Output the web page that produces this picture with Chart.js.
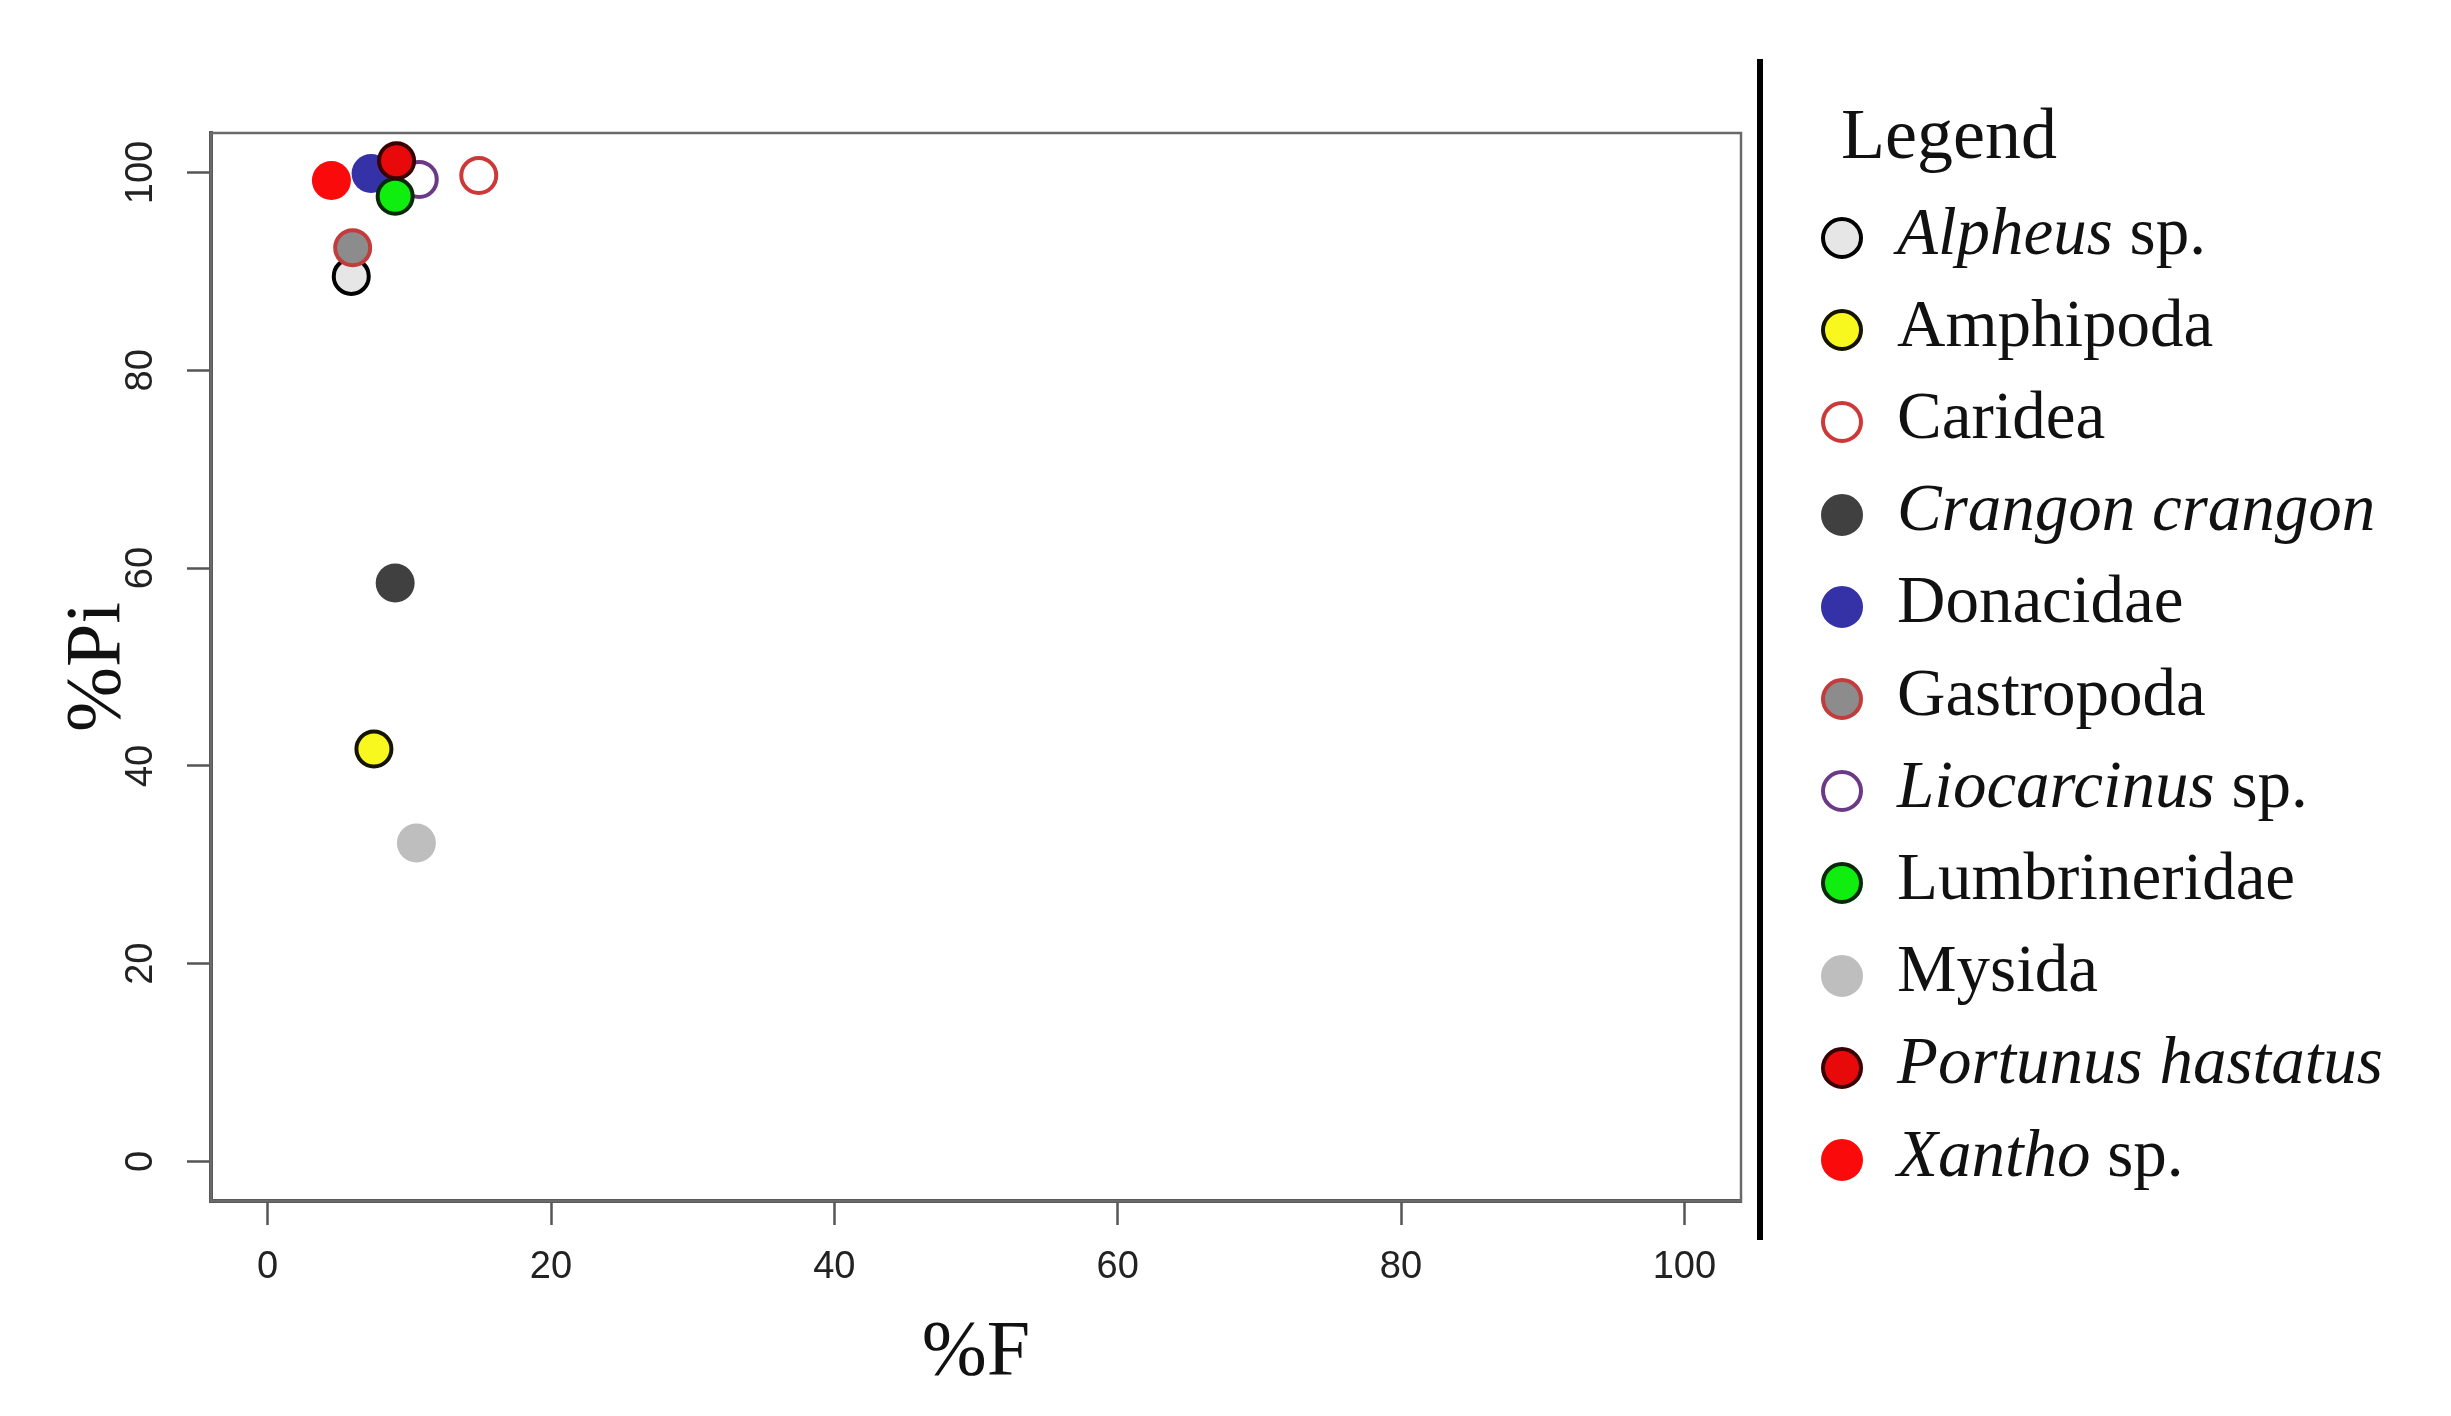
<!DOCTYPE html>
<html>
<head>
<meta charset="utf-8">
<script src="https://cdn.jsdelivr.net/npm/chart.js@4.4.1/dist/chart.umd.min.js"></script>
<style>
  body { margin: 0; background: #ffffff; }
  #wrap { position: relative; width: 2451px; height: 1416px; overflow: hidden; }
  #plot { position: absolute; left: 0; top: 0; }
  #divider { position: absolute; left: 1757px; top: 59px; width: 6px; height: 1181px; background: #000; }
  #legend { position: absolute; left: 1821px; top: 0; width: 630px; font-family: 'Liberation Serif', 'Times New Roman', serif; color: #111; }
  #legendTitle { position: absolute; left: 20px; top: 98px; font-size: 72px; line-height: 1; }
  .row { position: absolute; left: 0; height: 92px; display: flex; align-items: center; white-space: nowrap; }
  .mark { box-sizing: border-box; width: 42px; height: 42px; border-radius: 50%; border-style: solid; border-width: 4px; flex: none; }
  .lbl { margin-left: 34px; font-size: 67px; line-height: 1; position: relative; top: -7px; }
</style>
</head>
<body>
<div id="wrap">
  <canvas id="plot" width="2451" height="1416"></canvas>
  <div id="divider"></div>
  <div id="legend"><div id="legendTitle">Legend</div></div>
</div>
<script>
// prey categories (legend order, also drawing order)
const taxa = ['Alpheus sp.', 'Amphipoda', 'Caridea', 'Crangon crangon', 'Donacidae', 'Gastropoda',
              'Liocarcinus sp.', 'Lumbrineridae', 'Mysida', 'Portunus hastatus', 'Xantho sp.'];
// which names are written in italics (genus / species)
const italicNames = [true, false, false, true, false, false, true, false, false, true, true];

// %F (frequency of occurrence) and %Pi (prey-specific importance)
const pctF  = [5.9, 7.5, 14.9, 9.0, 7.3, 6.0, 10.7, 9.0, 10.5, 9.1, 4.5];
const pctPi = [89.5, 41.7, 99.7, 58.5, 99.9, 92.4, 99.3, 97.6, 32.2, 101.2, 99.2];

// axis ticks
const xTicks = [0, 20, 40, 60, 80, 100];
const yTicks = [0, 20, 40, 60, 80, 100];

// colours per category
const fillColors   = ['#e6e6e6', '#f8f81e', '#ffffff', '#404040', '#3432a6', '#8c8c8c',
                      '#ffffff', '#10ee10', '#bebebe', '#e80a0a', '#fa0a0a'];
const borderColors = ['#000000', '#141400', '#cd3838', '#404040', '#3432a6', '#c23c3c',
                      '#6b3a86', '#082a08', '#bebebe', '#3a0000', '#fa0a0a'];

const tickFont = { family: "'Liberation Sans Narrow', 'Liberation Sans', Arial, sans-serif", size: 38 };
const titleFont = { family: "'Liberation Serif', 'Times New Roman', serif", size: 78 };

const datasets = taxa.map(function(name, i) {
    const bordered = fillColors[i] !== borderColors[i];
    return {
        label: name,
        data: [{ x: pctF[i], y: pctPi[i] }],
        backgroundColor: fillColors[i],
        borderColor: borderColors[i],
        pointRadius: bordered ? 17.5 : 19.5,
        pointBorderWidth: bordered ? 4 : 0,
        pointStyle: 'circle',
        order: taxa.length - i
    };
});

// box around the plotting region, like R's box()
const frame = {
    id: 'frame',
    beforeDatasetsDraw(chart) {
        const a = chart.chartArea;
        const ctx = chart.ctx;
        ctx.save();
        ctx.strokeStyle = '#6a6a6a';
        ctx.lineWidth = 2.5;
        ctx.strokeRect(a.left, a.top, a.right - a.left, a.bottom - a.top);
        ctx.restore();
    }
};

new Chart(document.getElementById('plot').getContext('2d'), {
    type: 'scatter',
    data: { datasets: datasets },
    options: {
        responsive: false,
        animation: false,
        devicePixelRatio: 1,
        events: [],
        layout: { padding: { top: 133, right: 710, left: 0, bottom: 0 } },
        plugins: { legend: { display: false }, tooltip: { enabled: false } },
        scales: {
            x: {
                type: 'linear', min: -4, max: 104,
                afterBuildTicks: function(s) { s.ticks = xTicks.map(v => ({ value: v })); },
                afterFit: function(s) { s.height = 215; },
                grid: { drawOnChartArea: false, tickLength: 24, tickWidth: 2.5, tickColor: '#555' },
                border: { display: true, color: '#555', width: 4 },
                ticks: { font: tickFont, color: '#222', padding: 20, maxRotation: 0, minRotation: 0 },
                title: { display: true, text: '%F', font: titleFont, color: '#111', padding: { top: 0, bottom: 16 } }
            },
            y: {
                type: 'linear', min: -4, max: 104,
                afterBuildTicks: function(s) { s.ticks = yTicks.map(v => ({ value: v })); },
                afterFit: function(s) { s.width = 211; },
                grid: { drawOnChartArea: false, tickLength: 24, tickWidth: 2.5, tickColor: '#555' },
                border: { display: true, color: '#555', width: 4 },
                ticks: { font: tickFont, color: '#222', padding: 14, minRotation: 90, maxRotation: 90, crossAlign: 'center' },
                title: { display: true, text: '%Pi', font: titleFont, color: '#111', padding: { top: 52, bottom: 0 } }
            }
        }
    },
    plugins: [frame]
});

// legend on the right, built from the same arrays
const legend = document.getElementById('legend');
taxa.forEach(function(name, i) {
    const row = document.createElement('div');
    row.className = 'row';
    row.style.top = (192 + i * 92.2) + 'px';
    const mark = document.createElement('span');
    mark.className = 'mark';
    mark.style.background = fillColors[i];
    mark.style.borderColor = borderColors[i];
    const lbl = document.createElement('span');
    lbl.className = 'lbl';
    if (italicNames[i]) {
        const parts = name.endsWith(' sp.') ? [name.slice(0, -4), ' sp.'] : [name, ''];
        const it = document.createElement('i');
        it.textContent = parts[0];
        lbl.appendChild(it);
        if (parts[1]) lbl.appendChild(document.createTextNode(parts[1]));
    } else {
        lbl.textContent = name;
    }
    row.appendChild(mark);
    row.appendChild(lbl);
    legend.appendChild(row);
});
</script>
</body>
</html>
